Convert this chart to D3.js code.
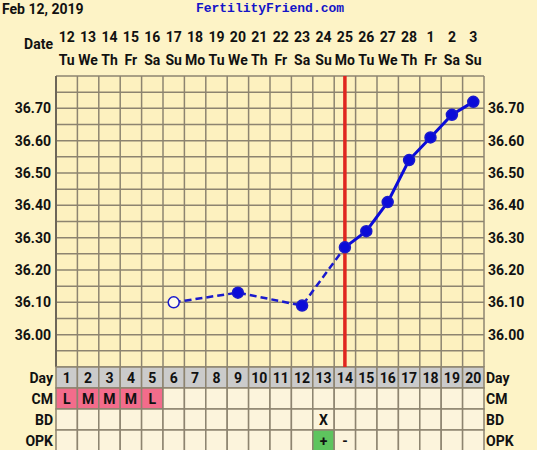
<!DOCTYPE html>
<html>
<head>
<meta charset="utf-8">
<script src="https://cdn.jsdelivr.net/npm/d3@7"></script>
<style>
body { margin: 0; background: #fdf3c6; }
svg { display: block; }
text { font-family: Roboto, "DejaVu Sans", sans-serif; font-weight: bold; fill: #111; }
</style>
</head>
<body>
<script>
var width = 537;
var height = 450;

// data
var dates = ["12","13","14","15","16","17","18","19","20","21","22","23","24","25","26","27","28","1","2","3"];
var weekdays = ["Tu","We","Th","Fr","Sa","Su","Mo","Tu","We","Th","Fr","Sa","Su","Mo","Tu","We","Th","Fr","Sa","Su"];
var cycleDays = d3.range(1, 21);
var tempDays = [6, 9, 12, 14, 15, 16, 17, 18, 19, 20];
var temps = [36.10, 36.13, 36.09, 36.27, 36.32, 36.41, 36.54, 36.61, 36.68, 36.72];
var openDays = [6];
var dashedUntil = 14;
var coverDay = 14;
var yTicks = [36.0, 36.1, 36.2, 36.3, 36.4, 36.5, 36.6, 36.7];
var cmRow = ["L","M","M","M","L"];
var bdRow = {13: "X"};
var opkRow = {13: "+", 14: "-"};
var rowLabels = ["Day", "CM", "BD", "OPK"];

var plotLeft = 56, plotRight = 484, plotTop = 76, plotBottom = 367;
var rowH = 21;

var x = d3.scaleBand().domain(cycleDays).range([plotLeft, plotRight]);
var y = d3.scaleLinear().domain([35.9, 36.8]).range([plotBottom, plotTop]);
var cx = function (d) { return x(d) + x.bandwidth() / 2; };

var svg = d3.select("body").append("svg")
    .attr("width", width)
    .attr("height", height);

svg.append("rect").attr("width", width).attr("height", height).attr("fill", "#fdf3c6");

// header
svg.append("text").attr("x", 2).attr("y", 14).attr("font-size", 14).text("Feb 12, 2019");
svg.append("text").attr("x", 270).attr("y", 12).attr("text-anchor", "middle")
    .attr("font-size", 13)
    .style("font-family", "'Liberation Mono', 'DejaVu Sans Mono', monospace")
    .style("fill", "#1414c8")
    .text("FertilityFriend.com");

svg.append("text").attr("x", 53).attr("y", 49).attr("text-anchor", "end").attr("font-size", 14).text("Date");
svg.selectAll("text.date").data(cycleDays).enter().append("text")
    .attr("class", "date")
    .attr("x", cx).attr("y", 42).attr("text-anchor", "middle").attr("font-size", 14)
    .text(function (d, i) { return dates[i]; });
svg.selectAll("text.wd").data(cycleDays).enter().append("text")
    .attr("class", "wd")
    .attr("x", cx).attr("y", 65).attr("text-anchor", "middle").attr("font-size", 14)
    .text(function (d, i) { return weekdays[i]; });

// plot area
svg.append("rect").attr("x", plotLeft).attr("y", plotTop)
    .attr("width", plotRight - plotLeft).attr("height", plotBottom - plotTop)
    .attr("fill", "#fdf1bf");

var gridColor = "#8d8470";
var hLines = d3.range(35.9, 36.801, 0.05);
svg.selectAll("line.h").data(hLines).enter().append("line")
    .attr("class", "h")
    .attr("x1", plotLeft).attr("x2", plotRight)
    .attr("y1", function (d) { return y(d); }).attr("y2", function (d) { return y(d); })
    .attr("stroke", gridColor).attr("stroke-width", 1.5);
svg.selectAll("line.v").data(cycleDays.concat([21])).enter().append("line")
    .attr("class", "v")
    .attr("x1", function (d) { return d === 21 ? plotRight : x(d); })
    .attr("x2", function (d) { return d === 21 ? plotRight : x(d); })
    .attr("y1", plotTop).attr("y2", plotBottom)
    .attr("stroke", gridColor).attr("stroke-width", 1.5);
svg.append("line").attr("x1", plotLeft).attr("x2", plotLeft).attr("y1", plotTop).attr("y2", plotBottom)
    .attr("stroke", "#6d6658").attr("stroke-width", 2);

// y labels both sides
svg.selectAll("text.yl").data(yTicks).enter().append("text")
    .attr("class", "yl")
    .attr("x", 51).attr("y", function (d) { return y(d) + 5; })
    .attr("text-anchor", "end").attr("font-size", 14)
    .text(function (d) { return d.toFixed(2); });
svg.selectAll("text.yr").data(yTicks).enter().append("text")
    .attr("class", "yr")
    .attr("x", 488).attr("y", function (d) { return y(d) + 5; })
    .attr("font-size", 14)
    .text(function (d) { return d.toFixed(2); });

// table
var tableTop = plotBottom;
for (var r = 0; r < 4; r++) {
    var ry = tableTop + r * rowH;
    svg.selectAll("rect.row" + r).data(cycleDays).enter().append("rect")
        .attr("x", function (d) { return x(d); })
        .attr("y", ry)
        .attr("width", x.bandwidth()).attr("height", rowH)
        .attr("fill", function (d) {
            if (r === 0) return "#cbcbcb";
            if (r === 1 && d <= cmRow.length) return "#f36c8b";
            if (r === 3 && opkRow[d] === "+") return "#5ec45e";
            return "#fcf4dc";
        })
        .attr("stroke", gridColor).attr("stroke-width", 1.5);
    svg.append("text").attr("x", 53).attr("y", ry + 16).attr("text-anchor", "end")
        .attr("font-size", 14).text(rowLabels[r]);
    svg.append("text").attr("x", 486).attr("y", ry + 16)
        .attr("font-size", 14).text(rowLabels[r]);
}
svg.selectAll("text.dn").data(cycleDays).enter().append("text")
    .attr("class", "dn")
    .attr("x", cx).attr("y", tableTop + 16).attr("text-anchor", "middle").attr("font-size", 14)
    .text(function (d) { return d; });
svg.selectAll("text.cm").data(cmRow).enter().append("text")
    .attr("class", "cm")
    .attr("x", function (d, i) { return cx(i + 1); }).attr("y", tableTop + rowH + 16)
    .attr("text-anchor", "middle").attr("font-size", 14)
    .text(function (d) { return d; });
Object.keys(bdRow).forEach(function (k) {
    svg.append("text").attr("x", cx(+k)).attr("y", tableTop + 2 * rowH + 16)
        .attr("text-anchor", "middle").attr("font-size", 14).text(bdRow[k]);
});
Object.keys(opkRow).forEach(function (k) {
    svg.append("text").attr("x", cx(+k)).attr("y", tableTop + 3 * rowH + 16)
        .attr("text-anchor", "middle").attr("font-size", 14).text(opkRow[k]);
});

// coverline (ovulation day)
svg.append("line")
    .attr("x1", cx(coverDay)).attr("x2", cx(coverDay))
    .attr("y1", plotTop).attr("y2", plotBottom)
    .attr("stroke", "#e0261f").attr("stroke-width", 3.5);

// temperature line
var pts = tempDays.map(function (d, i) { return { day: d, t: temps[i] }; });
var line = d3.line().x(function (d) { return cx(d.day); }).y(function (d) { return y(d.t); });
svg.append("path").datum(pts.filter(function (d) { return d.day <= dashedUntil; }))
    .attr("d", line).attr("fill", "none")
    .attr("stroke", "#1a1acc").attr("stroke-width", 2.5).attr("stroke-dasharray", "7,4");
svg.append("path").datum(pts.filter(function (d) { return d.day >= dashedUntil; }))
    .attr("d", line).attr("fill", "none")
    .attr("stroke", "#0b0bd8").attr("stroke-width", 3);
svg.selectAll("circle.pt").data(pts).enter().append("circle")
    .attr("class", "pt")
    .attr("cx", function (d) { return cx(d.day); })
    .attr("cy", function (d) { return y(d.t); })
    .attr("r", 5.5)
    .attr("fill", function (d) { return openDays.indexOf(d.day) >= 0 ? "#fffbe8" : "#0b0bd8"; })
    .attr("stroke", "#1a1acc").attr("stroke-width", 1.5);
</script>
</body>
</html>
